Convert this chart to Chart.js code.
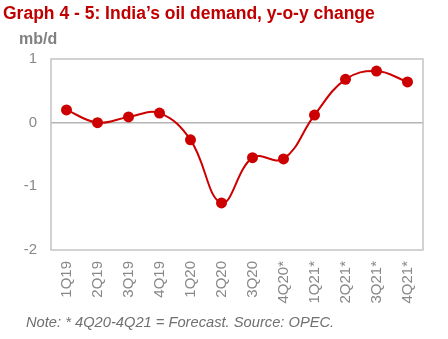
<!DOCTYPE html>
<html><head><meta charset="utf-8">
<script src="https://cdn.jsdelivr.net/npm/chart.js@4/dist/chart.umd.min.js"></script>
<style>
html,body{margin:0;padding:0;background:#fff;width:448px;height:339px;overflow:hidden;font-family:"Liberation Sans",Arial,sans-serif;}
#wrap{position:relative;width:448px;height:339px;}
#c{position:absolute;left:0;top:0;}
.t{position:absolute;white-space:nowrap;line-height:1;}
#title{left:3px;top:5px;font-size:17.5px;font-weight:bold;color:#c00000;}
#unit{left:19px;top:31px;font-size:16px;font-weight:bold;color:#808080;}
#note{left:26px;top:315px;font-size:14.7px;font-style:italic;color:#707070;}
</style></head>
<body><div id="wrap">
<canvas id="c" width="448" height="339"></canvas>
<div class="t" id="title">Graph 4 - 5: India’s oil demand, y-o-y change</div>
<div class="t" id="unit">mb/d</div>
<div class="t" id="note">Note: * 4Q20-4Q21 = Forecast. Source: OPEC.</div>
</div>
<script>
const categories = ["1Q19","2Q19","3Q19","4Q19","1Q20","2Q20","3Q20","4Q20*","1Q21*","2Q21*","3Q21*","4Q21*"];
const demandChange = [0.20, 0.00, 0.09, 0.15, -0.27, -1.26, -0.55, -0.57, 0.12, 0.68, 0.81, 0.64];
const yTicks = [1, 0, -1, -2];

const boxPlugin = {
  id: 'box',
  afterDraw(chart) {
    const a = chart.chartArea, ctx = chart.ctx;
    ctx.save();
    ctx.strokeStyle = '#c4c4c4';
    ctx.lineWidth = 1.5;
    ctx.strokeRect(a.left, a.top, a.right - a.left, a.bottom - a.top);
    ctx.restore();
  }
};

new Chart(document.getElementById('c'), {
  type: 'line',
  data: {
    labels: categories,
    datasets: [{
      data: demandChange,
      borderColor: '#cc0000',
      backgroundColor: '#cc0000',
      borderWidth: 2,
      tension: 0.4,
      pointRadius: 5.5,
      pointBackgroundColor: '#cc0000',
      pointBorderColor: '#cc0000',
      pointBorderWidth: 0
    }]
  },
  options: {
    responsive: false,
    animation: false,
    events: [],
    layout: { padding: { left: 0, right: 25, top: 59, bottom: 29 } },
    plugins: { legend: { display: false }, tooltip: { enabled: false } },
    scales: {
      x: {
        offset: true,
        grid: { display: false },
        border: { display: false },
        ticks: {
          minRotation: 90, maxRotation: 90, autoSkip: false,
          color: '#888888', padding: 3,
          font: { family: '"Liberation Sans", Arial, sans-serif', size: 15 }
        },
        afterFit(s) { s.height = 60; }
      },
      y: {
        min: -2, max: 1,
        afterBuildTicks(s) { s.ticks = yTicks.map(v => ({ value: v })); },
        grid: {
          drawTicks: false,
          lineWidth: 1.5,
          color: ctx => (ctx.tick && ctx.tick.value === 0) ? '#b4b4b4' : 'rgba(0,0,0,0)'
        },
        border: { display: false },
        ticks: {
          color: '#888888', padding: 14,
          font: { family: '"Liberation Sans", Arial, sans-serif', size: 15 }
        },
        afterFit(s) { s.width = 51; }
      }
    }
  },
  plugins: [boxPlugin]
});
</script>
</body></html>
